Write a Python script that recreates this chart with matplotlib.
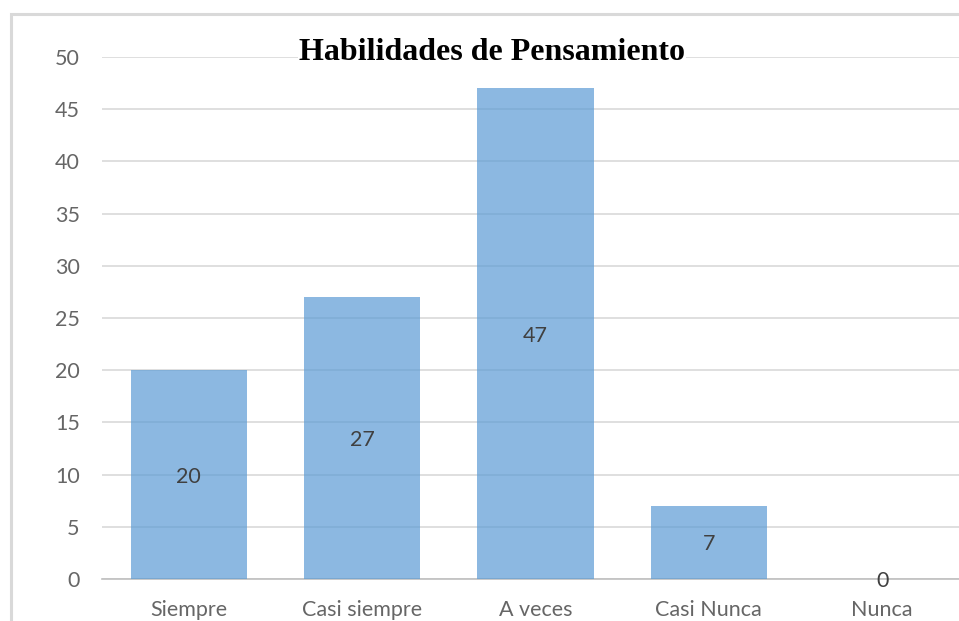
import matplotlib
matplotlib.use("Agg")
import matplotlib.pyplot as plt
from matplotlib.patches import Rectangle

categories = ["Siempre", "Casi siempre", "A veces", "Casi Nunca", "Nunca"]
values = [20, 27, 47, 7, 0]
yticks = [0, 5, 10, 15, 20, 25, 30, 35, 40, 45, 50]
title = "Habilidades de Pensamiento"

W, H = 959, 621
fig = plt.figure(figsize=(W / 100, H / 100), dpi=100)
fig.patch.set_facecolor("white")

# outer chart frame (cropped at right/bottom)
fig.patches.append(Rectangle((11 / W, -0.1), 1.2, (H - 14) / H + 0.1,
                             transform=fig.transFigure, fill=False,
                             edgecolor="#d9d9d9", linewidth=2.2, zorder=0))

ax = fig.add_axes([102 / W, (H - 579) / H, (959 - 102) / W, (579 - 57) / H])
x = list(range(len(categories)))
bars = ax.bar(x, values, width=0.67, color="#5B9BD5", alpha=0.7, zorder=2)

ax.set_xlim(-0.5, (959 - 189) / 173.3)
ax.set_ylim(0, 50)
ax.set_yticks(yticks)
ax.set_xticks(x)
ax.set_xticklabels(categories)
ax.yaxis.grid(True, color="#d9d9d9", linewidth=1.2, zorder=1)
ax.set_axisbelow(True)
for s in ["top", "right", "left"]:
    ax.spines[s].set_visible(False)
ax.spines["bottom"].set_color("#bfbfbf")
ax.spines["bottom"].set_linewidth(1.2)
ax.spines["bottom"].set_zorder(1)
ax.tick_params(axis="both", length=0, labelsize=15.5, colors="#666666",
               labelfontfamily="Lato")
ax.tick_params(axis="y", pad=16)
ax.tick_params(axis="x", pad=15)

for xi, v in zip(x, values):
    ax.text(xi, v / 2, str(v), ha="center", va="center_baseline", fontsize=15.5,
            color="#404040", family="Lato", zorder=3)

fig.text(492 / W, 1 - 53 / H, title, ha="center", va="center",
         fontsize=23, fontweight="bold", family="Liberation Serif",
         color="black",
         bbox=dict(facecolor="white", edgecolor="none", pad=1))

fig.savefig("out.png", dpi=100)
